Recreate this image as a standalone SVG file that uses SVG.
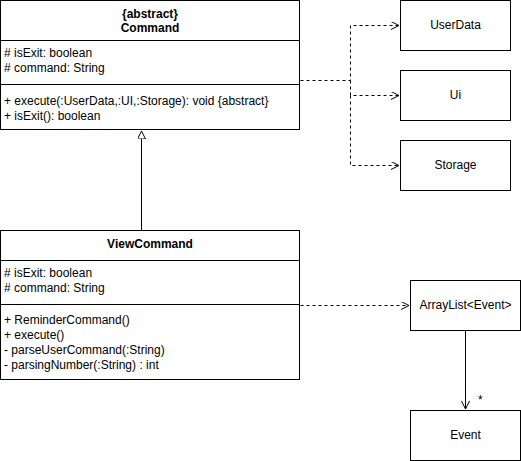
<svg xmlns="http://www.w3.org/2000/svg" width="521" height="461" viewBox="0 0 521 461">
<style>
text{font-family:"Liberation Sans",Arial,sans-serif;font-size:12px;fill:#000}
.t{font-weight:bold;text-anchor:middle}
.c{text-anchor:middle}
.box{fill:#fff;stroke:#000;stroke-width:1}
.ln{stroke:#000;stroke-width:1;fill:none}
.dash{stroke:#000;stroke-width:1;fill:none;stroke-dasharray:3 3}
</style>
<defs>
<marker id="open" markerWidth="10" markerHeight="10" refX="8" refY="4" orient="auto" markerUnits="userSpaceOnUse">
<path d="M0,0 L8,4 L0,8" fill="none" stroke="#000" stroke-width="1"/>
</marker>
<marker id="tri" markerWidth="10" markerHeight="10" refX="8" refY="4" orient="auto" markerUnits="userSpaceOnUse">
<path d="M0,0 L8,4 L0,8 Z" fill="#fff" stroke="#000" stroke-width="1"/>
</marker>
</defs>
<rect width="521" height="461" fill="#fff"/>
<g id="connectors">
<path class="dash" d="M300.5,80.5 H350.5 V25.5 H399" marker-end="url(#open)"/>
<path class="dash" d="M350.5,80.5 V95.5 H399" marker-end="url(#open)"/>
<path class="dash" d="M350.5,95.5 V165.5 H399" marker-end="url(#open)"/>
<path class="ln" d="M141.5,230 V131" marker-end="url(#tri)"/>
<path class="dash" d="M300.5,305.5 H409" marker-end="url(#open)"/>
<path class="ln" d="M465.5,330.5 V409" marker-end="url(#open)"/>
<text x="478" y="404" font-size="11">*</text>
</g>
<g id="command">
<rect class="box" x="0.5" y="0.5" width="299" height="129"/>
<line class="ln" x1="0.5" y1="40.5" x2="299.5" y2="40.5"/>
<line class="ln" x1="0.5" y1="84.5" x2="299.5" y2="84.5"/>
<text class="t" x="150" y="18">{abstract}</text>
<text class="t" x="150" y="32">Command</text>
<text x="4" y="57"># isExit: boolean</text>
<text x="4" y="72"># command: String</text>
<text x="4" y="105">+ execute(:UserData,:UI,:Storage): void {abstract}</text>
<text x="4" y="120">+ isExit(): boolean</text>
</g>
<g id="userdata">
<rect class="box" x="400.5" y="0.5" width="110" height="50"/>
<text class="c" x="455.5" y="29">UserData</text>
</g>
<g id="ui">
<rect class="box" x="400.5" y="70.5" width="110" height="50"/>
<text class="c" x="455.5" y="99">Ui</text>
</g>
<g id="storage">
<rect class="box" x="400.5" y="140.5" width="110" height="50"/>
<text class="c" x="455.5" y="169">Storage</text>
</g>
<g id="viewcommand">
<rect class="box" x="0.5" y="230.5" width="299" height="149"/>
<line class="ln" x1="0.5" y1="260.5" x2="299.5" y2="260.5"/>
<line class="ln" x1="0.5" y1="304.5" x2="299.5" y2="304.5"/>
<text class="t" x="150" y="248">ViewCommand</text>
<text x="4" y="277"># isExit: boolean</text>
<text x="4" y="292"># command: String</text>
<text x="4" y="324">+ ReminderCommand()</text>
<text x="4" y="339">+ execute()</text>
<text x="4" y="354">- parseUserCommand(:String)</text>
<text x="4" y="369">- parsingNumber(:String) : int</text>
</g>
<g id="arraylist">
<rect class="box" x="410.5" y="280.5" width="110" height="50"/>
<text class="c" x="465.5" y="309">ArrayList&lt;Event&gt;</text>
</g>
<g id="event">
<rect class="box" x="410.5" y="410.5" width="110" height="50"/>
<text class="c" x="465.5" y="439">Event</text>
</g>
</svg>
